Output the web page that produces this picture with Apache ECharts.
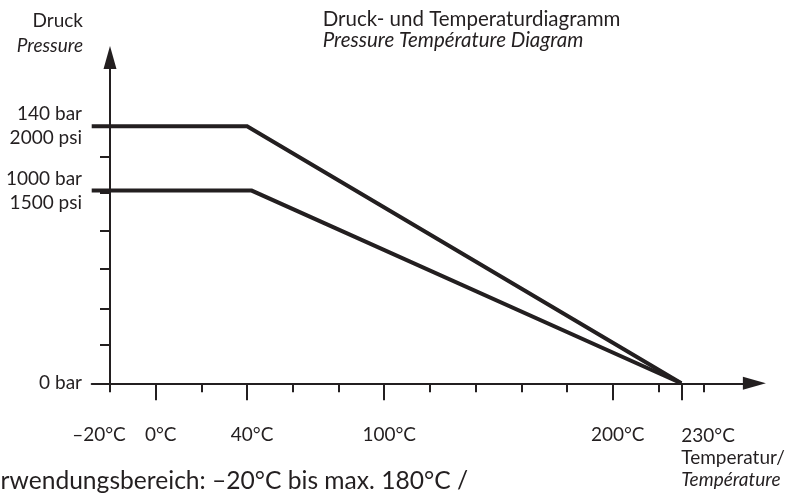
<!DOCTYPE html>
<html>
<head>
<meta charset="utf-8">
<script src="https://cdn.jsdelivr.net/npm/echarts@6/dist/echarts.min.js"></script>
<style>
  html, body { margin: 0; padding: 0; background: #ffffff; }
  #chart { width: 803px; height: 497px; }
</style>
</head>
<body>
<div id="chart"></div>
<script>
// Pressure limit curves: temperature (°C) against pressure (psi)
const upperTemps = [-28, 40, 230];
const upperPressures = [2000, 2000, 0];
const lowerTemps = [-28, 42, 230];
const lowerPressures = [1500, 1500, 0];

// Temperature axis ticks and labels
const minorTickTemps = [-20, 20, 60, 80, 120, 140, 160, 180, 220, 240];
const majorTickTemps = [0, 40, 100, 200, 230];
const tempLabelValues = [-20, 0, 40, 100, 200];
const tempLabels = ['–20°C', '0°C', '40°C', '100°C', '200°C'];
const endTempValue = 230;
const endTempLabel = ['230°C', 'Temperatur/', 'Température'];

// Pressure axis ticks and labels
const pressureTicks = [0, 300, 580, 890, 1190, 1480, 1760, 2000];
const pressureLabelValues = [0, 1500, 2000];
const pressureLabels = [['0 bar'], ['1000 bar', '1500 psi'], ['140 bar', '2000 psi']];

// Texts
const titleLines = ['Druck- und Temperaturdiagramm', 'Pressure Température Diagram'];
const pressureName = ['Druck', 'Pressure'];
const rangeNote = 'Verwendungsbereich: –20°C bis max. 180°C /';

const INK = '#231f20';
const FONT = 'Lato';
const FS = 19;
const TITLE_FS = 20.5;
const NOTE_FS = 24.6;

const tempMin = -28, tempMax = 262;
const pressMin = 0, pressMax = 2536;

function pairs(xs, ys) { return xs.map((x, i) => [x, ys[i]]); }

const chart = echarts.init(document.getElementById('chart'), null, { renderer: 'canvas' });

const baseX = {
  type: 'value', min: tempMin, max: tempMax, position: 'bottom',
  splitLine: { show: false }
};

chart.setOption({
  animation: false,
  backgroundColor: '#ffffff',
  grid: {
    left: 91.7, right: 48.6, top: 57.5, bottom: 113.7,
    containLabel: false, outerBoundsMode: 'none'
  },
  xAxis: [
    Object.assign({}, baseX, {
      axisLine: {
        show: true, onZero: true,
        symbol: ['none', 'triangle'], symbolSize: [13, 23],
        lineStyle: { color: INK, width: 2 }
      },
      axisTick: { show: true, customValues: minorTickTemps, length: 9, lineStyle: { color: INK, width: 2 } },
      axisLabel: { show: false }
    }),
    Object.assign({}, baseX, {
      axisLine: { show: false, onZero: true },
      axisTick: { show: true, customValues: majorTickTemps, length: 17, lineStyle: { color: INK, width: 2 } },
      axisLabel: {
        show: true, customValues: tempLabelValues, margin: 42,
        color: INK, fontFamily: FONT, fontSize: FS,
        formatter: v => {
          const i = tempLabelValues.indexOf(v);
          return i === 0 ? '{m|' + tempLabels[i] + '}' : '{p|' + tempLabels[i] + '}';
        },
        rich: {
          p: { fontFamily: FONT, fontSize: FS, color: INK, padding: [0, 0, 0, 10] },
          m: { fontFamily: FONT, fontSize: FS, color: INK, padding: [0, 22, 0, 0] }
        }
      }
    }),
    Object.assign({}, baseX, {
      axisLine: { show: false, onZero: true },
      axisTick: { show: false },
      axisLabel: {
        show: true, customValues: [endTempValue], margin: 42, align: 'left',
        verticalAlign: 'top',
        color: INK, fontFamily: FONT, fontSize: FS,
        formatter: () => '{n|' + endTempLabel[0] + '}\n{n|' + endTempLabel[1] + '}\n{i|' + endTempLabel[2] + '}',
        rich: {
          n: { fontFamily: FONT, fontSize: FS, color: INK, lineHeight: 22 },
          i: { fontFamily: FONT, fontSize: FS, color: INK, lineHeight: 22, fontStyle: 'italic' }
        }
      }
    })
  ],
  yAxis: {
    type: 'value', min: pressMin, max: pressMax, position: 'left', offset: -18.3,
    splitLine: { show: false },
    axisLine: {
      show: true, onZero: false,
      symbol: ['none', 'triangle'], symbolSize: [13, 23],
      lineStyle: { color: INK, width: 2 }
    },
    axisTick: { show: true, customValues: pressureTicks, length: 10, lineStyle: { color: INK, width: 2 } },
    axisLabel: {
      show: true, customValues: pressureLabelValues, margin: 28, align: 'right',
      color: INK, fontFamily: FONT, fontSize: FS, lineHeight: 24,
      formatter: v => pressureLabels[pressureLabelValues.indexOf(v)].join('\n')
    },
    name: '{a|' + pressureName[0] + '}\n{b|' + pressureName[1] + '}',
    nameLocation: 'end', nameGap: -1,
    nameTextStyle: {
      align: 'right', verticalAlign: 'bottom', padding: [0, 27, 0, 0],
      rich: {
        a: { fontFamily: FONT, fontSize: FS, color: INK, lineHeight: 25 },
        b: { fontFamily: FONT, fontSize: FS, color: INK, lineHeight: 25, fontStyle: 'italic' }
      }
    }
  },
  graphic: [
    { type: 'text', x: 322.7, y: 19, silent: true,
      style: { text: titleLines[0], fill: INK, font: TITLE_FS + 'px ' + FONT, textAlign: 'left', textVerticalAlign: 'middle' } },
    { type: 'text', x: 322.7, y: 40, silent: true,
      style: { text: titleLines[1], fill: INK, font: 'italic ' + TITLE_FS + 'px ' + FONT, textAlign: 'left', textVerticalAlign: 'middle' } },
    { type: 'text', x: 468, y: 481, silent: true,
      style: { text: rangeNote, fill: INK, font: NOTE_FS + 'px ' + FONT, textAlign: 'right', textVerticalAlign: 'middle' } }
  ],
  series: [
    {
      type: 'line', xAxisIndex: 0, yAxisIndex: 0,
      data: pairs(upperTemps, upperPressures),
      symbol: 'none', silent: true,
      lineStyle: { color: INK, width: 4, join: 'miter' }
    },
    {
      type: 'line', xAxisIndex: 0, yAxisIndex: 0,
      data: pairs(lowerTemps, lowerPressures),
      symbol: 'none', silent: true,
      lineStyle: { color: INK, width: 4, join: 'miter' }
    }
  ]
});
</script>
</body>
</html>
